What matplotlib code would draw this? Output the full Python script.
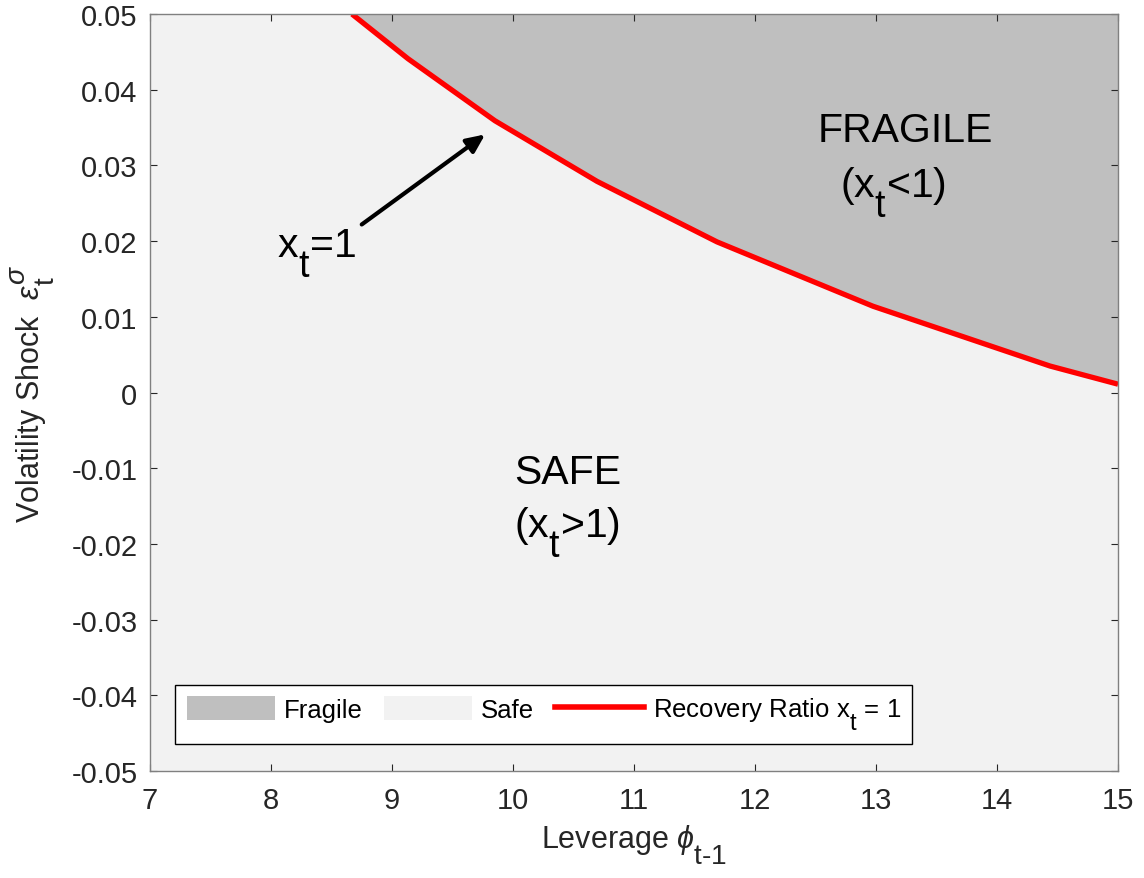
import numpy as np
import matplotlib.pyplot as plt
import matplotlib._mathtext as mt
from matplotlib.patches import Patch
from matplotlib.lines import Line2D

plt.rcParams['font.family'] = ['Liberation Sans', 'DejaVu Sans']
plt.rcParams['mathtext.fontset'] = 'custom'
plt.rcParams['mathtext.rm'] = 'Liberation Sans'
plt.rcParams['mathtext.it'] = 'Liberation Sans:italic'
plt.rcParams['mathtext.default'] = 'regular'

# TeX-interpreter style scripts: nearly full size and dropped low
mt.SHRINK_FACTOR = 0.92
mt.FontConstantsBase.sub1 = 0.95
mt.FontConstantsBase.sub2 = 0.9
mt.FontConstantsBase.sup1 = 0.8

# boundary where the recovery ratio equals 1
leverage = [8.669, 9.132, 9.851, 10.694, 11.686, 12.975, 14.438, 15.0]
shock = [0.0500, 0.0441, 0.0359, 0.0279, 0.0199, 0.0114, 0.0035, 0.0011]

xlim = (7, 15)
ylim = (-0.05, 0.05)

xx = np.concatenate([[xlim[0]], leverage])
yy = np.concatenate([[ylim[1]], shock])

fig = plt.figure(figsize=(11.44, 8.79), dpi=100)
ax = fig.add_axes([0.1311, 0.1217, 0.8462, 0.8612])

ax.fill_between(xx, ylim[0], yy, color='#f2f2f2', lw=0)
ax.fill_between(xx, yy, ylim[1], color='#bfbfbf', lw=0)
ax.plot(leverage, shock, color='#ff0000', lw=3.8, solid_capstyle='butt')

ax.set_xlim(*xlim)
ax.set_ylim(*ylim)
ax.set_xticks(np.arange(7, 16, 1))
ax.set_yticks(np.round(np.arange(-0.05, 0.051, 0.01), 2))
ax.set_yticklabels(['-0.05', '-0.04', '-0.03', '-0.02', '-0.01', '0',
                    '0.01', '0.02', '0.03', '0.04', '0.05'])
ax.tick_params(direction='in', top=True, right=True, length=5,
               labelsize=21, colors='#262626', pad=9)
ax.tick_params(axis='x', pad=11)
for s in ax.spines.values():
    s.set_color('#808080')
    s.set_linewidth(1)

ax.set_xlabel(r'Leverage $\mathit{\phi}_{\text{t-1}}$', fontsize=22,
              color='#262626', labelpad=6)
ax.set_ylabel(r'Volatility Shock  $\mathit{\epsilon}_{\mathrm{t}}^{\mathit{\sigma}}$',
              fontsize=22, color='#262626', labelpad=10)

big = 29.5
ax.text(13.24, 0.0332, 'FRAGILE', fontsize=big, ha='center', va='baseline')
ax.text(13.14, 0.0260, r'(x$_{t}$<1)', fontsize=big, ha='center', va='baseline')
ax.text(10.45, -0.0120, 'SAFE', fontsize=big, ha='center', va='baseline')
ax.text(10.45, -0.0190, r'(x$_{t}$>1)', fontsize=big, ha='center', va='baseline')
ax.text(8.38, 0.0180, r'x$_{t}$=1', fontsize=big, ha='center', va='baseline')
ax.annotate('', xy=(9.77, 0.0341), xytext=(8.75, 0.0222),
            arrowprops=dict(arrowstyle='-|>,head_length=1.1,head_width=0.5',
                            color='black', lw=3, shrinkA=0, shrinkB=0))

handles = [Patch(facecolor='#bfbfbf', edgecolor='none'),
           Patch(facecolor='#f2f2f2', edgecolor='none'),
           Line2D([], [], color='#ff0000', lw=4)]
labels = ['Fragile', 'Safe', r'Recovery Ratio x$_{t}$ = 1']
leg = ax.legend(handles, labels, loc='lower left', ncol=3, fontsize=18.5,
                frameon=True, fancybox=False, edgecolor='black',
                bbox_to_anchor=(0.0258, 0.0357), borderaxespad=0,
                handlelength=3.45, handleheight=1.05,
                columnspacing=0.8, handletextpad=0.35, borderpad=0.45)
leg.get_frame().set_linewidth(1)
leg.get_frame().set_facecolor('white')
leg.get_frame().set_alpha(1)

fig.savefig('out.png', dpi=100, facecolor='white')
